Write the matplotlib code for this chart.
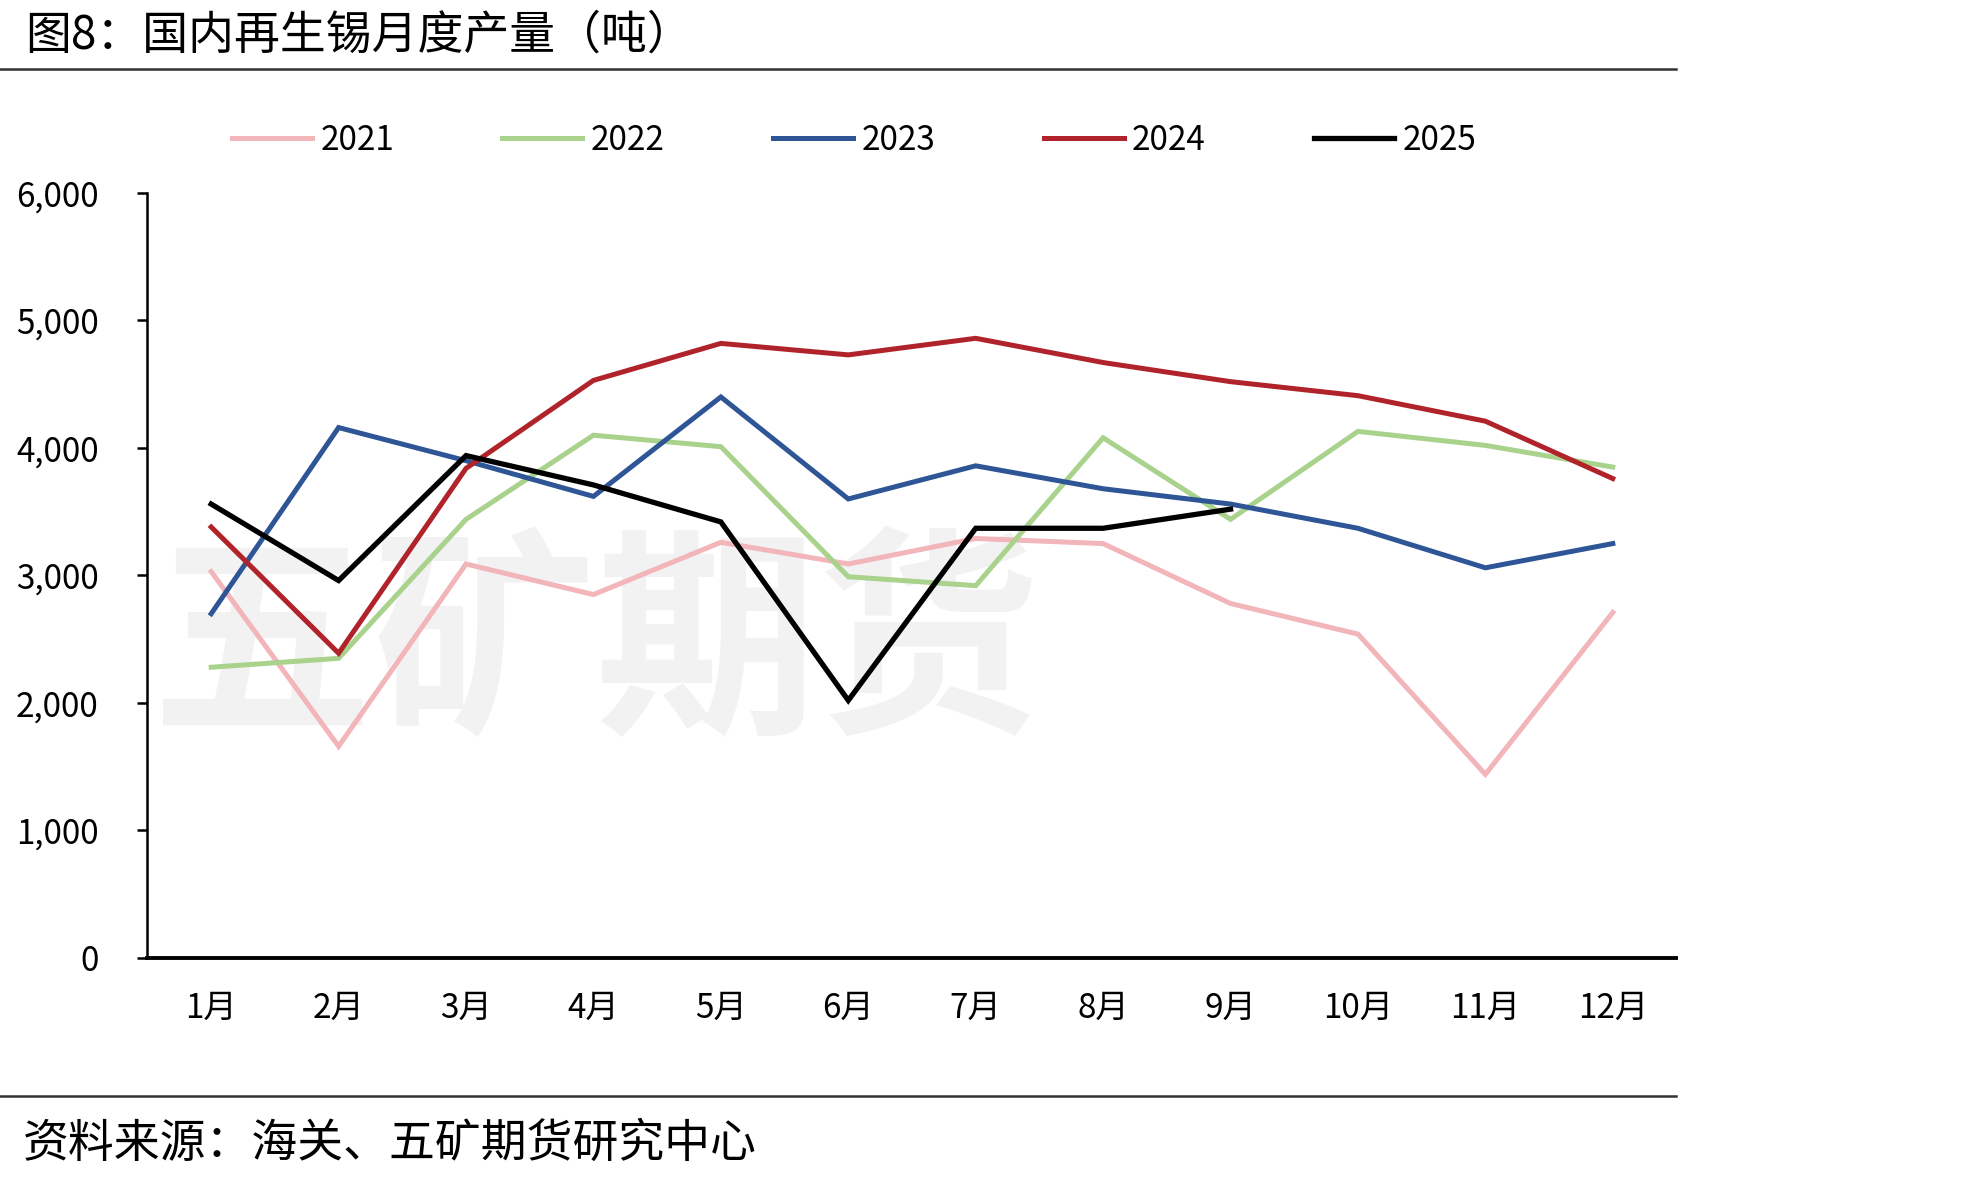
import matplotlib
matplotlib.use("Agg")
import matplotlib.pyplot as plt
from matplotlib.lines import Line2D
from matplotlib.ticker import FuncFormatter

plt.rcParams['font.family'] = ['Noto Sans CJK SC', 'DejaVu Sans']

# 数据（吨）
months = ["1月", "2月", "3月", "4月", "5月", "6月", "7月", "8月", "9月", "10月", "11月", "12月"]
y2021 = [3030, 1660, 3090, 2850, 3260, 3090, 3290, 3250, 2780, 2540, 1440, 2710]
y2022 = [2280, 2350, 3440, 4100, 4010, 2990, 2920, 4080, 3440, 4130, 4020, 3850]
y2023 = [2700, 4160, 3900, 3620, 4400, 3600, 3860, 3680, 3560, 3370, 3060, 3250]
y2024 = [3380, 2390, 3840, 4530, 4820, 4730, 4860, 4670, 4520, 4410, 4210, 3760]
y2025 = [3560, 2960, 3940, 3710, 3420, 2020, 3370, 3370, 3520]

series = [
    ("2021", y2021, "#F2B5B9", 3.6),
    ("2022", y2022, "#A9D28C", 3.6),
    ("2023", y2023, "#2E5596", 3.6),
    ("2024", y2024, "#B1232A", 3.6),
    ("2025", y2025, "#000000", 3.8),
]

fig = plt.figure(figsize=(19.77, 11.78), dpi=100)
ax = fig.add_axes([0.0746, 0.1868, 0.7734, 0.6494])

# 水印（在线条下面）
ax.text(0.301, 0.447, "五矿期货", transform=fig.transFigure, fontsize=160,
        fontweight="bold", color="#f2f2f2", ha="center", va="center", zorder=1)

x = list(range(len(months)))
for name, vals, color, lw in series:
    ax.plot(x[:len(vals)], vals, color=color, lw=lw, label=name,
            solid_joinstyle="miter", zorder=3)

ax.set_xlim(-0.5, 11.5)
ax.set_ylim(0, 6000)
ax.set_yticks(range(0, 6001, 1000))
ax.yaxis.set_major_formatter(FuncFormatter(lambda v, p: f"{int(v):,}"))
ax.set_xticks(x)
ax.set_xticklabels(months)

ax.spines["top"].set_visible(False)
ax.spines["right"].set_visible(False)
ax.spines["left"].set_linewidth(1.8)
ax.spines["bottom"].set_linewidth(2.8)
ax.tick_params(axis="y", length=7, width=1.8, pad=28, labelsize=24)
ax.tick_params(axis="x", length=0, pad=24, labelsize=24)

fig.legend(loc="center", bbox_to_anchor=(0.432, 0.881), ncol=5, frameon=False,
           fontsize=24, handlelength=2.4, handletextpad=0.25, columnspacing=3.25)

# 标题与来源
fig.text(0.0126, 0.970, "图8：国内再生锡月度产量（吨）", fontsize=33, ha="left", va="center")
fig.add_artist(Line2D([0, 0.848], [1 - 69 / 1178, 1 - 69 / 1178], color="#333333", lw=1.8))
fig.add_artist(Line2D([0, 0.848], [1 - 1096 / 1178, 1 - 1096 / 1178], color="#333333", lw=1.8))
fig.text(0.0116, 1 - 1144 / 1178, "资料来源：海关、五矿期货研究中心", fontsize=33, ha="left", va="center")

fig.savefig("out.png", dpi=100)
